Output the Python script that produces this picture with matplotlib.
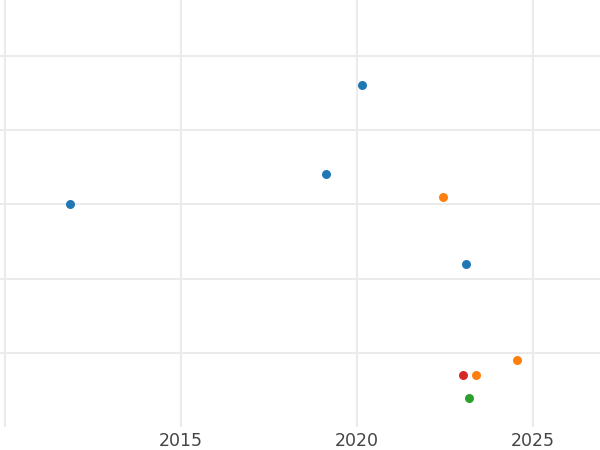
import matplotlib
matplotlib.use("Agg")
import matplotlib.pyplot as plt

# values (y scale is unlabelled)
blue_x = [2020.14, 2019.12, 2011.86, 2023.10]
blue_y = [4.61, 3.41, 3.01, 2.20]
orange_x = [2022.44, 2024.54, 2023.38]
orange_y = [3.10, 0.91, 0.70]
red_x = [2023.01]
red_y = [0.70]
green_x = [2023.18]
green_y = [0.40]

series = [
    (blue_x, blue_y, "#1f77b4"),
    (orange_x, orange_y, "#ff7f0e"),
    (red_x, red_y, "#d62728"),
    (green_x, green_y, "#2ca02c"),
]

xticks = [2010, 2015, 2020, 2025]
yticks = [1, 2, 3, 4, 5]

fig = plt.figure(figsize=(6, 4.5), dpi=100)
ax = fig.add_axes([0.0, 1 - 426.5 / 450, 1.0, 426.5 / 450])

for xs, ys, c in series:
    ax.scatter(xs, ys, color=c, s=42, linewidths=0, zorder=3)

ax.set_xlim(2009.87, 2026.9)
ax.set_ylim(0.01, 5.75)
ax.set_xticks(xticks)
ax.set_xticklabels(["", "2015", "2020", "2025"])
ax.set_yticks(yticks)
ax.set_yticklabels([])
ax.grid(True, color="#ebebeb", linewidth=1.5)
ax.set_axisbelow(True)
ax.tick_params(length=0, labelsize=12.5, labelcolor="#444444", pad=4)
for s in ax.spines.values():
    s.set_visible(False)

fig.savefig("out.png", dpi=100)
